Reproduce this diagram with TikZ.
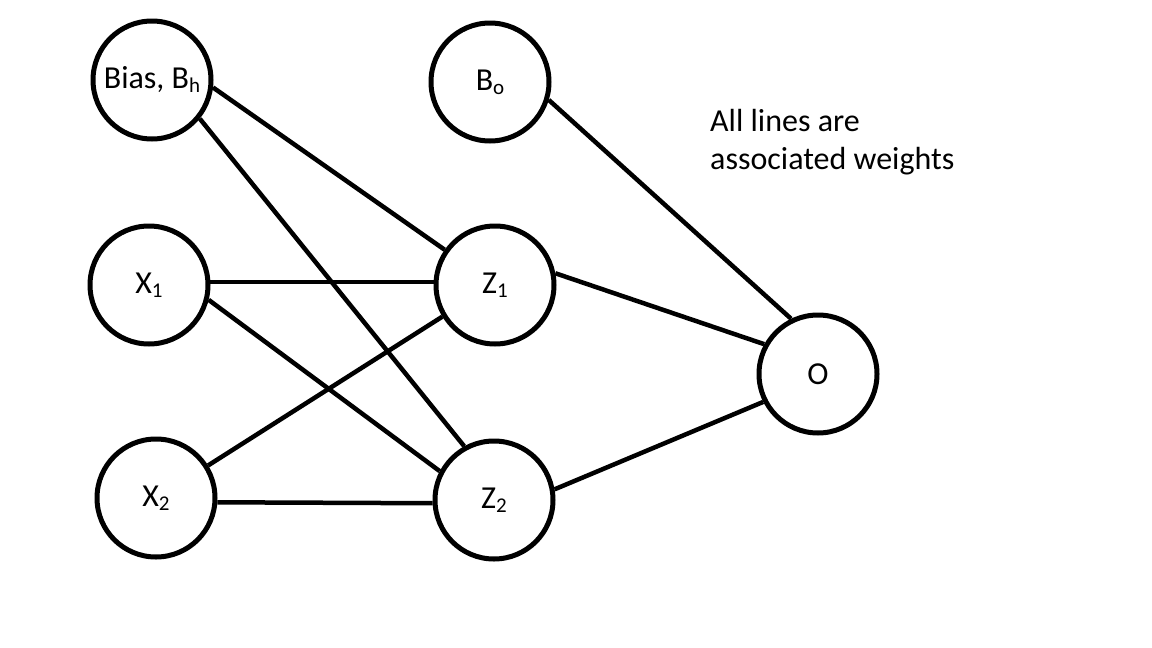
\documentclass[tikz,border=0pt]{standalone}
\usepackage{fontspec}
\setmainfont{Carlito}
\newcommand\sbs[1]{\raisebox{-4pt}{\fontsize{21}{21}\selectfont #1}}
\tikzset{
  neuron/.style={circle, draw=black, line width=5pt, minimum size=118pt, inner sep=0pt, fill=white, font=\fontsize{32}{38}\selectfont},
  weight/.style={draw=black, line width=4.5pt},
  note/.style={font=\fontsize{32}{38}\selectfont, align=left, inner sep=0pt, anchor=north west}
}
\begin{document}
\begin{tikzpicture}[x=1pt, y=-1pt]
\useasboundingbox[fill=white] (0,0) rectangle (1152,648);
\node[neuron] (bias) at (152,80) {Bias, B\sbs{h}};
\node[neuron] (bo) at (490,82) {B\sbs{o}};
\node[neuron] (x1) at (149,285) {X\sbs{1}};
\node[neuron] (z1) at (495,285) {Z\sbs{1}};
\node[neuron] (x2) at (156,498) {X\sbs{2}};
\node[neuron] (z2) at (494,500) {Z\sbs{2}};
\node[neuron] (o) at (818,374) {O};
\node[note] (txt) at (710,109) {All lines are\\associated weights};
\draw[weight] (bias.-7) -- (z1.145);
\draw[weight] (bias.-39) -- (z2.119);
\draw[weight] (x1.3) -- (z1.177);
\draw[weight] (x1.-14) -- (z2.152);
\draw[weight] (x2.32) -- (z1.211);
\draw[weight] (x2.-4) -- (z2.183);
\draw[weight] (z1.11) -- (o.151);
\draw[weight] (z2.10) -- (o.207);
\draw[weight] (bo.-17) -- (o.116);
\end{tikzpicture}
\end{document}
